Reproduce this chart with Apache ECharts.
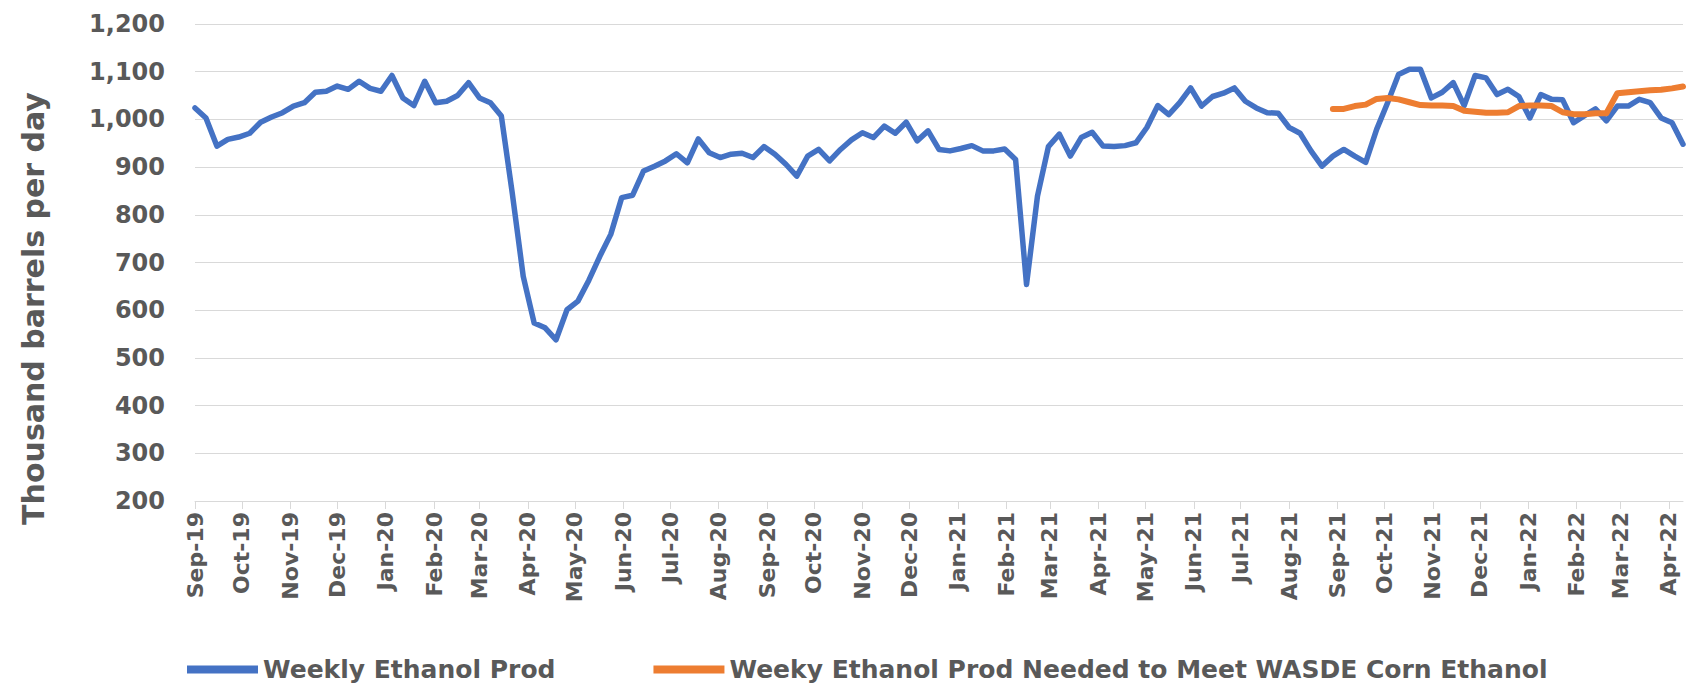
<!DOCTYPE html>
<html>
<head>
<meta charset="utf-8">
<script src="https://cdn.jsdelivr.net/npm/echarts@6/dist/echarts.min.js"></script>
<style>html,body{margin:0;padding:0;background:#fff}#chart{width:1696px;height:690px}</style>
</head>
<body>
<div id="chart"></div>
<script>
// ---- data ----
const firstWeek = [2019, 8, 6];            // week ending Fri 6 Sep 2019 (year, monthIndex, day)
const wasdeFirstWeek = [2021, 8, 3];       // first week of the WASDE series
const monthLabels = ['Sep-19','Oct-19','Nov-19','Dec-19','Jan-20','Feb-20','Mar-20','Apr-20','May-20','Jun-20','Jul-20','Aug-20',
  'Sep-20','Oct-20','Nov-20','Dec-20','Jan-21','Feb-21','Mar-21','Apr-21','May-21','Jun-21','Jul-21','Aug-21',
  'Sep-21','Oct-21','Nov-21','Dec-21','Jan-22','Feb-22','Mar-22','Apr-22'];
const yTicks = [200, 300, 400, 500, 600, 700, 800, 900, 1000, 1100, 1200];
const weeklyProd = [
  1024,1003,944,958,963,971,994,1005,1014,1028,1035,1057,1059,1070,1063,1080,1065,1059,1092,1045,
  1029,1080,1035,1038,1050,1077,1045,1035,1007,845,671,573,563,538,601,619,663,713,759,836,
  841,892,902,913,928,909,959,930,920,927,929,920,943,927,906,881,923,937,913,937,
  957,972,962,986,971,994,955,976,937,934,939,945,934,934,938,916,654,839,943,969,
  923,962,973,944,943,945,951,983,1029,1010,1035,1066,1028,1048,1055,1066,1038,1024,1014,1013,
  983,971,934,902,923,937,923,910,979,1035,1094,1105,1105,1045,1057,1077,1029,1092,1087,1052,
  1063,1048,1003,1052,1042,1041,993,1008,1022,997,1028,1028,1042,1035,1003,993,948
];
const wasdeNeeded = [
  1022,1022,1028,1031,1043,1045,1042,1036,1030,1029,1029,1028,1018,1016,1014,1014,1015,1028,1029,1029,
  1028,1015,1011,1011,1013,1013,1055,1057,1059,1061,1062,1065,1069
];
const seriesNames = ['Weekly Ethanol Prod', 'Weeky Ethanol Prod Needed to Meet WASDE Corn Ethanol'];
const colors = ['#4472C4', '#ED7D31'];

// ---- build ----
const DAY = 86400000;
const t0 = Date.UTC(firstWeek[0], firstWeek[1], firstWeek[2]);
const w0 = Date.UTC(wasdeFirstWeek[0], wasdeFirstWeek[1], wasdeFirstWeek[2]);
const prodData = weeklyProd.map((v, i) => [t0 + i * 7 * DAY, v]);
const wasdeData = wasdeNeeded.map((v, i) => [w0 + i * 7 * DAY, v]);
const tEnd = t0 + (weeklyProd.length - 1) * 7 * DAY;
const tickTimes = monthLabels.map((_, k) => Date.UTC(firstWeek[0], firstWeek[1] + k, firstWeek[2]));

const FONT = 'DejaVu Sans';
const GREY = '#595959';

const chart = echarts.init(document.getElementById('chart'), null, {renderer: 'svg'});
chart.setOption({
  animation: false,
  backgroundColor: '#ffffff',
  grid: {left: 195, right: 13, top: 24, bottom: 189, containLabel: false},
  legend: {
    left: 182, top: 652,
    itemWidth: 71, itemHeight: 8, itemGap: 98,
    icon: 'rect',
    data: seriesNames,
    textStyle: {fontFamily: FONT, fontWeight: 'bold', fontSize: 25, color: GREY}
  },
  xAxis: {
    type: 'value',
    min: t0, max: tEnd,
    axisLine: {show: true, lineStyle: {color: '#d9d9d9', width: 1}},
    axisTick: {show: true, length: 8, lineStyle: {color: '#d9d9d9'}, customValues: tickTimes},
    splitLine: {show: false},
    axisLabel: {
      customValues: tickTimes,
      rotate: 90, margin: 11,
      fontFamily: FONT, fontWeight: 'bold', fontSize: 22, color: GREY,
      formatter: function (v) {
        for (let k = 0; k < tickTimes.length; k++) {
          if (Math.abs(tickTimes[k] - v) < DAY / 2) return monthLabels[k];
        }
        return '';
      }
    }
  },
  yAxis: {
    type: 'value',
    min: yTicks[0], max: yTicks[yTicks.length - 1], interval: 100,
    name: 'Thousand barrels per day',
    nameLocation: 'middle', nameGap: 147, nameRotate: 90,
    nameTextStyle: {fontFamily: FONT, fontWeight: 'bold', fontSize: 30, color: GREY, padding: [0, 92, 0, 0]},
    axisLine: {show: false},
    axisTick: {show: false},
    splitLine: {show: true, lineStyle: {color: '#d9d9d9', width: 1}},
    axisLabel: {
      margin: 30,
      fontFamily: FONT, fontWeight: 'bold', fontSize: 24, color: GREY,
      formatter: v => v.toLocaleString('en-US')
    }
  },
  series: [
    {
      name: seriesNames[0], type: 'line', data: prodData,
      showSymbol: false, symbol: 'none',
      lineStyle: {color: colors[0], width: 5.5, join: 'round', cap: 'round'},
      itemStyle: {color: colors[0]}
    },
    {
      name: seriesNames[1], type: 'line', data: wasdeData,
      showSymbol: false, symbol: 'none',
      lineStyle: {color: colors[1], width: 6, join: 'round', cap: 'round'},
      itemStyle: {color: colors[1]}
    }
  ]
});
</script>
</body>
</html>
